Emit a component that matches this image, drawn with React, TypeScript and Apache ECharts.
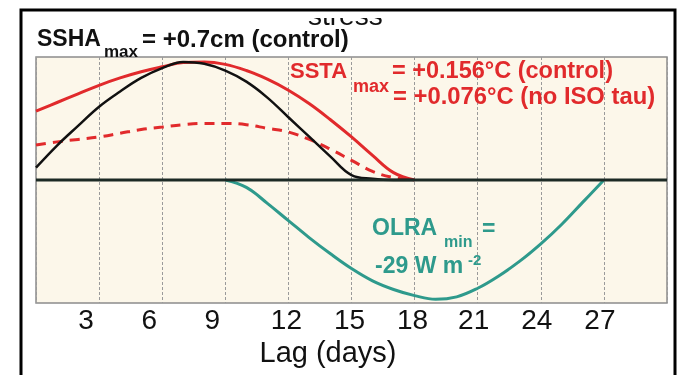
import React, { useEffect, useRef } from "react";
import * as echarts from "echarts";

// Lag (days) for each series
const LAG_SST_SSH = [0, 1, 2, 3, 4, 5, 6, 7, 8, 9, 10, 11, 12, 13, 14, 15, 16, 17, 18];
const SSHA_CONTROL = [0.1, 0.28, 0.44, 0.596, 0.72, 0.83, 0.91, 0.96, 0.945, 0.89, 0.8, 0.67, 0.51, 0.35, 0.19, 0.04, 0.01, 0, 0];
const SSTA_CONTROL = [0.56, 0.63, 0.7, 0.77, 0.83, 0.88, 0.92, 0.955, 0.96, 0.94, 0.89, 0.82, 0.73, 0.62, 0.49, 0.35, 0.2, 0.06, 0];
const SSTA_NO_ISO = [0.285, 0.31, 0.33, 0.35, 0.38, 0.41, 0.43, 0.45, 0.46, 0.46, 0.45, 0.42, 0.39, 0.33, 0.25, 0.16, 0.07, 0.02, 0];
const LAG_OLR = [9, 10, 11, 12, 13, 14, 15, 16, 17, 18, 19, 20, 21, 22, 23, 24, 25, 26, 27];
const OLRA = [0, -0.06, -0.19, -0.33, -0.47, -0.6, -0.72, -0.82, -0.89, -0.94, -0.97, -0.95, -0.88, -0.78, -0.66, -0.52, -0.36, -0.18, 0];
const ZERO_LAG = [0, 30];
const X_MIN = 0;
const X_MAX = 30;
const X_STEP = 3;

const FONT = "'Liberation Sans', Arial, Helvetica, sans-serif";
const RED = "#e12a2c";
const TEAL = "#2e9a8c";
const INK = "#111111";

const pairs = (xs: number[], ys: number[]) => xs.map((x, i) => [x, ys[i]]);

export default function App() {
  const ref = useRef<HTMLDivElement>(null);
  useEffect(() => {
    if (!ref.current) return;
    const chart = echarts.init(ref.current, null, { renderer: "svg" });
    const txt = (text: string, x: number, y: number, size: number, color: string, weight = "bold") => ({
      type: "text",
      x,
      y,
      z: 100,
      style: {
        text,
        fill: color,
        font: `${weight} ${size}px ${FONT}`,
        lineHeight: Math.round(size * 0.8),
        textAlign: "left",
        textVerticalAlign: "middle",
      },
    });
    const line = (name: string, xs: number[], ys: number[], color: string, width: number, z: number, type: any = "solid") => ({
      name,
      type: "line",
      data: pairs(xs, ys),
      smooth: 0.4,
      symbol: "none",
      lineStyle: { color, width, type },
      z,
    });
    chart.setOption({
      animation: false,
      grid: {
        left: 36,
        right: 16,
        top: 57,
        bottom: 72,
        show: true,
        backgroundColor: "#fcf7ea",
        borderColor: "#8c8c8c",
        borderWidth: 1.5,
      },
      xAxis: {
        type: "value",
        min: X_MIN,
        max: X_MAX,
        interval: X_STEP,
        axisLine: { show: false },
        axisTick: { show: false },
        splitLine: { show: true, lineStyle: { color: "#9a9a9a", type: [3, 2], width: 1 } },
        axisLabel: {
          showMinLabel: false,
          showMaxLabel: false,
          margin: 2,
          color: INK,
          fontFamily: FONT,
          fontSize: 28,
          formatter: (v: number) => (v < 10 ? `{a|${v}}` : v < 20 ? `{b|${v}}` : `{c|${v}}`),
          rich: {
            a: { fontSize: 28, fontFamily: FONT, color: INK, padding: [0, 26, 0, 0] },
            b: { fontSize: 28, fontFamily: FONT, color: INK, padding: [0, 4, 0, 0] },
            c: { fontSize: 28, fontFamily: FONT, color: INK, padding: [0, 8, 0, 0] },
          },
        },
        name: "Lag (days)",
        nameLocation: "middle",
        nameGap: 26,
        nameTextStyle: { fontSize: 29, fontFamily: FONT, color: INK, padding: [0, 47, 0, 0] },
      },
      yAxis: {
        type: "value",
        min: -1,
        max: 1,
        axisLine: { show: false },
        axisTick: { show: false },
        axisLabel: { show: false },
        splitLine: { show: false },
      },
      series: [
        line("OLRA", LAG_OLR, OLRA, TEAL, 3, 2),
        line("SSTA no ISO tau", LAG_SST_SSH, SSTA_NO_ISO, RED, 3, 3, [10, 7]),
        line("SSTA control", LAG_SST_SSH, SSTA_CONTROL, RED, 3, 4),
        line("SSHA control", LAG_SST_SSH, SSHA_CONTROL, INK, 2.5, 5),
        {
          name: "zero",
          type: "line",
          data: ZERO_LAG.map((x) => [x, 0]),
          symbol: "none",
          lineStyle: { color: "#1c2a25", width: 3 },
          z: 6,
        },
      ],
      graphic: [
        {
          type: "text",
          x: 308,
          y: 15,
          z: 1,
          style: {
            text: "stress",
            fill: INK,
            font: `normal 28px ${FONT}`,
            lineHeight: 12,
            textAlign: "left",
            textVerticalAlign: "middle",
          },
        },
        { type: "rect", z: 2, shape: { x: 290, y: 0, width: 140, height: 18 }, style: { fill: "#ffffff" } },
        {
          type: "rect",
          z: 3,
          shape: { x: 21, y: 10, width: 654, height: 420 },
          style: { fill: "none", stroke: "#000000", lineWidth: 3 },
        },
        txt("SSHA", 37, 38, 23, INK),
        txt("max", 104, 51, 17, INK),
        txt("= +0.7cm (control)", 142, 38, 24, INK),
        txt("SSTA", 290, 70, 22, RED),
        txt("max", 353, 86, 18, RED),
        txt("= +0.156°C (control)", 392, 70, 23.5, RED),
        txt("= +0.076°C (no ISO tau)", 393, 95, 23.8, RED),
        txt("OLRA", 372, 227, 23, TEAL),
        txt("min", 444, 241, 16, TEAL),
        txt("=", 482, 228, 23, TEAL),
        txt("-29 W m", 375, 265, 23, TEAL),
        txt("-2", 468, 259, 15, TEAL),
      ],
    });
    return () => chart.dispose();
  }, []);
  return <div ref={ref} style={{ position: "fixed", left: 0, top: 0, width: 683, height: 375 }} />;
}
